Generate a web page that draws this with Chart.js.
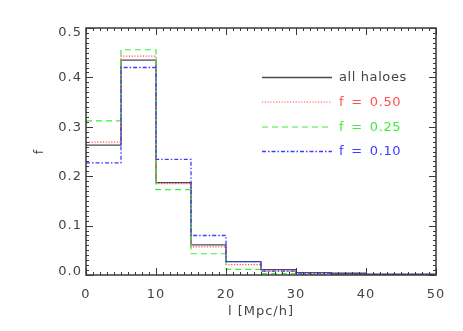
<!DOCTYPE html>
<html>
<head>
<meta charset="utf-8">
<script src="https://cdn.jsdelivr.net/npm/chart.js@4.4.0/dist/chart.umd.min.js"></script>
<style>
  html, body { margin: 0; padding: 0; background: #fff; }
  #wrap { width: 463px; height: 331px; }
</style>
</head>
<body>
<div id="wrap"><canvas id="c" width="463" height="331"></canvas></div>
<script>
// ---- data ----
const binLeftEdges = [0, 5, 10, 15, 20, 25, 30, 35, 40, 45];
const binUpperEdge = 50;
const allHaloes = [0.263, 0.435, 0.187, 0.061, 0.027, 0.011, 0.005, 0.0035, 0.0015, 0.0015];
const f050      = [0.269, 0.443, 0.185, 0.057, 0.021, 0.008, 0.004, 0.002, 0.001, 0.001];
const f025      = [0.312, 0.456, 0.173, 0.043, 0.0115, 0.003, 0.001, 0.001, 0.0005, 0.0005];
const f010      = [0.227, 0.420, 0.234, 0.080, 0.027, 0.008, 0.004, 0.002, 0.001, 0.001];
const seriesLabels = ['all haloes', 'f = 0.50', 'f = 0.25', 'f = 0.10'];
const xTickValues = [0, 10, 20, 30, 40, 50];
const yTickValues = [0.0, 0.1, 0.2, 0.3, 0.4, 0.5];

function stepPoints(vals) {
  const pts = binLeftEdges.map((x, i) => ({ x: x, y: vals[i] }));
  pts.push({ x: binUpperEdge, y: vals[vals.length - 1] });
  return pts;
}

const FONT = '"DejaVu Sans", sans-serif';
const TXT = '#444';
const SPACING = '1px';

const styles = [
  { color: '#4a4a4a', dash: [], width: 1.3, order: 3 },
  { color: '#ff5050', dash: [1.2, 1.6], width: 1.2, order: 2 },
  { color: '#3cee3c', dash: [6, 4], width: 1.2, order: 1 },
  { color: '#3c3cff', dash: [4, 2, 1.5, 2], width: 1.3, order: 0 }
];
const seriesValues = [allHaloes, f050, f025, f010];

const datasets = seriesValues.map((vals, i) => ({
  label: seriesLabels[i],
  data: stepPoints(vals),
  borderColor: styles[i].color,
  borderDash: styles[i].dash,
  borderWidth: styles[i].width,
  order: styles[i].order,
  stepped: 'before',
  pointRadius: 0,
  fill: false
}));

const spacingPlugin = {
  id: 'spacing',
  beforeInit(chart) { chart.ctx.letterSpacing = SPACING; },
  beforeLayout(chart) { chart.ctx.letterSpacing = SPACING; },
  beforeDraw(chart) { chart.ctx.letterSpacing = SPACING; }
};

const framePlugin = {
  id: 'frame',
  afterDraw(chart) {
    const { ctx, chartArea: a, scales: { x, y } } = chart;
    ctx.save();
    ctx.strokeStyle = '#3a3a3a';
    ctx.lineWidth = 1;
    const line = (x1, y1, x2, y2) => { ctx.beginPath(); ctx.moveTo(x1, y1); ctx.lineTo(x2, y2); ctx.stroke(); };
    for (let i = 0; i <= 50; i++) {
      const px = Math.round(x.getPixelForValue(i)) + 0.5;
      const len = (i % 10 === 0) ? 7 : 3;
      line(px, a.bottom, px, a.bottom - len);
      line(px, a.top, px, a.top + len);
    }
    for (let i = 0; i <= 50; i++) {
      const py = Math.round(y.getPixelForValue(i / 100)) + 0.5;
      const len = (i % 10 === 0) ? 7 : 3;
      line(a.left, py, a.left + len, py);
      line(a.right, py, a.right - len, py);
    }
    ctx.lineWidth = 1.5;
    ctx.strokeRect(a.left, a.top, a.right - a.left, a.bottom - a.top);

    // y tick labels (end labels nudged inward as in the reference)
    ctx.letterSpacing = SPACING;
    ctx.font = '13px ' + FONT;
    ctx.fillStyle = TXT;
    ctx.textAlign = 'right';
    ctx.textBaseline = 'middle';
    yTickValues.forEach((v, i) => {
      let py = y.getPixelForValue(v);
      if (i === 0) py -= 4;
      if (i === yTickValues.length - 1) py += 4;
      ctx.fillText(v.toFixed(1), a.left - 4, py + 0.5);
    });
    ctx.restore();
  }
};

const legendPlugin = {
  id: 'inlineLegend',
  afterDatasetsDraw(chart) {
    const { ctx } = chart;
    const x0 = 262, x1 = 332, tx = 339;
    const ys = [77, 101.5, 126.5, 151];
    ctx.save();
    ctx.letterSpacing = '0.6px';
    ctx.font = '13px ' + FONT;
    ctx.textBaseline = 'middle';
    ctx.textAlign = 'left';
    seriesLabels.forEach((lab, i) => {
      const ds = chart.data.datasets[i];
      ctx.strokeStyle = ds.borderColor;
      ctx.lineWidth = ds.borderWidth;
      ctx.setLineDash(ds.borderDash);
      ctx.beginPath();
      ctx.moveTo(x0, ys[i] + 0.5);
      ctx.lineTo(x1, ys[i] + 0.5);
      ctx.stroke();
      ctx.setLineDash([]);
      ctx.fillStyle = i === 0 ? TXT : ds.borderColor;
      ctx.fillText(lab.replace(/ = /, '\u2002=\u2002'), tx, ys[i] + 1);
    });
    ctx.restore();
  }
};

new Chart(document.getElementById('c'), {
  type: 'line',
  data: { datasets },
  options: {
    responsive: false,
    animation: false,
    events: [],
    layout: { padding: { left: 0, right: 27, top: 28, bottom: 0 } },
    plugins: { legend: { display: false }, tooltip: { enabled: false } },
    scales: {
      x: {
        type: 'linear',
        min: 0, max: 50,
        afterBuildTicks(s) { s.ticks = xTickValues.map(v => ({ value: v })); },
        afterFit(s) { s.height = 56; },
        grid: { display: false, drawTicks: false },
        border: { display: false },
        ticks: { color: TXT, font: { family: FONT, size: 13 }, padding: 12, maxRotation: 0,
                 callback: v => String(v) },
        title: { display: true, text: 'l [Mpc/h]', color: TXT, font: { family: FONT, size: 13 },
                 padding: { top: 0, bottom: 12 } }
      },
      y: {
        type: 'linear',
        min: 0, max: 0.5,
        afterBuildTicks(s) { s.ticks = yTickValues.map(v => ({ value: v })); },
        afterFit(s) { s.width = 86; },
        grid: { display: false, drawTicks: false },
        border: { display: false },
        ticks: { display: false },
        title: { display: true, text: 'f', color: TXT, font: { family: FONT, size: 13 },
                 padding: { top: 32, bottom: 0 } }
      }
    }
  },
  plugins: [spacingPlugin, framePlugin, legendPlugin]
});
</script>
</body>
</html>
